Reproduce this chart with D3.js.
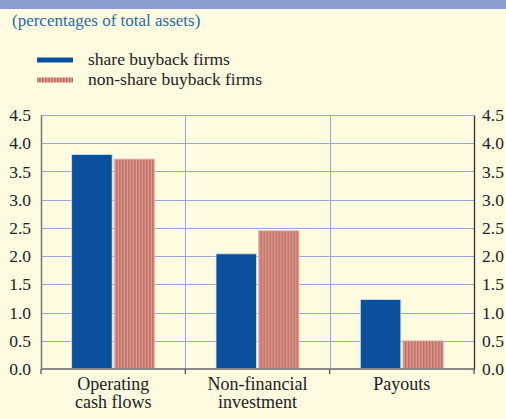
<!DOCTYPE html>
<html>
<head>
<meta charset="utf-8">
<script src="https://cdn.jsdelivr.net/npm/d3@7"></script>
<style>
  body { margin: 0; background: #fefbe0; }
  svg { display: block; }
</style>
</head>
<body>
<div class="chart"></div>
<script>
var categories = [['Operating', 'cash flows'], ['Non-financial', 'investment'], ['Payouts']]
var seriesNames = ['share buyback firms', 'non-share buyback firms']
var buyback = [3.80, 2.04, 1.23]
var nonBuyback = [3.72, 2.45, 0.50]
var yTicks = [0, 0.5, 1.0, 1.5, 2.0, 2.5, 3.0, 3.5, 4.0, 4.5]

var FONT = "'Liberation Serif', 'Times New Roman', serif"
var width = 506
var height = 419
var margin = {top: 115, right: 32, bottom: 50, left: 41}
var innerW = width - margin.left - margin.right
var innerH = height - margin.top - margin.bottom

var svg = d3.select('.chart')
  .append('svg')
  .attr('width', width)
  .attr('height', height)

svg.append('rect')
  .attr('width', width)
  .attr('height', height)
  .attr('fill', '#fefbe0')

// top band
svg.append('rect')
  .attr('width', width)
  .attr('height', 9)
  .attr('fill', '#8b9dcf')
svg.append('rect')
  .attr('y', 9)
  .attr('width', width)
  .attr('height', 2)
  .attr('fill', '#ffffff')

var defs = svg.append('defs')
var pat = defs.append('pattern')
  .attr('id', 'stripes')
  .attr('patternUnits', 'userSpaceOnUse')
  .attr('width', 3)
  .attr('height', 10)
pat.append('rect').attr('width', 3).attr('height', 10).attr('fill', '#de9f92')
pat.append('rect').attr('width', 1.6).attr('height', 10).attr('fill', '#bf6c63')

svg.append('text')
  .attr('x', 12)
  .attr('y', 26)
  .style('font-family', FONT)
  .style('font-size', '17px')
  .style('fill', '#2d6aa6')
  .text('(percentages of total assets)')

// legend
var legend = svg.append('g')
seriesNames.forEach(function(name, i) {
  var yy = 60 + i * 20
  legend.append('rect')
    .attr('x', 37)
    .attr('y', yy - 2.5)
    .attr('width', 36)
    .attr('height', 5)
    .attr('fill', i === 0 ? '#0a509c' : 'url(#stripes)')
  legend.append('text')
    .attr('x', 88)
    .attr('y', yy + 5)
    .style('font-family', FONT)
    .style('font-size', '17.5px')
    .style('fill', '#222')
    .text(name)
})

var g = svg.append('g')
  .attr('transform', 'translate(' + margin.left + ',' + margin.top + ')')

var x = d3.scaleBand()
  .domain(d3.range(categories.length))
  .range([0, innerW])

var y = d3.scaleLinear()
  .domain([0, 4.5])
  .range([innerH, 0])

// horizontal grid
g.selectAll('.grid')
  .data(yTicks.slice(1))
  .enter()
  .append('line')
  .attr('x1', 0)
  .attr('x2', innerW)
  .attr('y1', function(d) { return Math.round(y(d)) + 0.5 })
  .attr('y2', function(d) { return Math.round(y(d)) + 0.5 })
  .attr('stroke', '#97a7dc')
  .attr('stroke-width', 1)

// vertical dividers
g.selectAll('.divider')
  .data([1, 2])
  .enter()
  .append('line')
  .attr('x1', function(d) { return Math.round(x(d)) + 0.5 })
  .attr('x2', function(d) { return Math.round(x(d)) + 0.5 })
  .attr('y1', 0)
  .attr('y2', innerH)
  .attr('stroke', '#97a7dc')

var barW = 40.5
var groups = g.selectAll('.grp')
  .data(categories)
  .enter()
  .append('g')
  .attr('transform', function(d, i) { return 'translate(' + (x(i) + x.bandwidth() / 2) + ',0)' })

groups.append('rect')
  .attr('x', -barW - 1)
  .attr('width', barW)
  .attr('y', function(d, i) { return y(buyback[i]) })
  .attr('height', function(d, i) { return innerH - y(buyback[i]) })
  .attr('fill', '#0a509c')
  .attr('stroke', '#d8e0f0')
  .attr('stroke-width', 0.8)

groups.append('rect')
  .attr('x', 1)
  .attr('width', barW)
  .attr('y', function(d, i) { return y(nonBuyback[i]) })
  .attr('height', function(d, i) { return innerH - y(nonBuyback[i]) })
  .attr('fill', 'url(#stripes)')
  .attr('stroke', '#efc4b8')
  .attr('stroke-width', 0.8)

groups.each(function(d) {
  var t = d3.select(this).append('text')
    .attr('text-anchor', 'middle')
    .attr('y', innerH + 21)
    .style('font-family', FONT)
    .style('font-size', '18px')
    .style('fill', '#222')
  d.forEach(function(line, j) {
    t.append('tspan')
      .attr('x', 0)
      .attr('dy', j === 0 ? 0 : 17.5)
      .text(line)
  })
})

// axes
var left = d3.axisLeft(y).tickValues(yTicks).tickSize(0).tickPadding(10)
  .tickFormat(d3.format('.1f'))
var right = d3.axisRight(y).tickValues(yTicks).tickSize(0).tickPadding(8)
  .tickFormat(d3.format('.1f'))

var la = g.append('g').call(left)
la.select('.domain').attr('stroke', '#777').attr('stroke-width', 1.5)
la.selectAll('text').style('font-size', '17.5px').style('font-family', FONT).style('fill', '#222')

var ra = g.append('g').attr('transform', 'translate(' + innerW + ',0)').call(right)
ra.select('.domain').attr('stroke', '#333').attr('stroke-width', 1.3)
ra.selectAll('text').style('font-size', '17.5px').style('font-family', FONT).style('fill', '#222')

// baseline with ticks
g.append('line')
  .attr('x1', 0)
  .attr('x2', innerW)
  .attr('y1', innerH)
  .attr('y2', innerH)
  .attr('stroke', '#8a8a8a')
  .attr('stroke-width', 2.2)

g.selectAll('.xtick')
  .data(d3.range(categories.length + 1))
  .enter()
  .append('line')
  .attr('x1', function(d) { return d === categories.length ? innerW : x(d) })
  .attr('x2', function(d) { return d === categories.length ? innerW : x(d) })
  .attr('y1', innerH)
  .attr('y2', innerH + 5)
  .attr('stroke', '#555')
  .attr('stroke-width', 1.3)
</script>
</body>
</html>
